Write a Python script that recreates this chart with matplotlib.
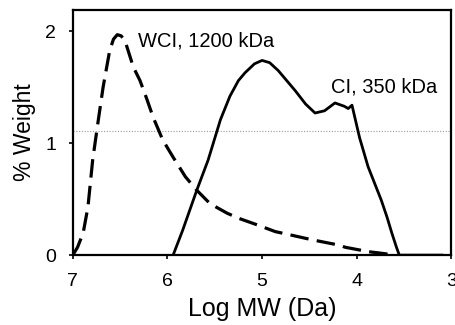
import numpy as np
import matplotlib
matplotlib.use("Agg")
import matplotlib.pyplot as plt

plt.rcParams['font.family'] = ['Liberation Sans', 'DejaVu Sans']

# WCI profile (dashed), log MW vs % weight
wci_logmw = [7.00, 6.95, 6.89, 6.84, 6.79, 6.73, 6.68, 6.61, 6.57, 6.53,
             6.49, 6.45, 6.36, 6.29, 6.22, 6.15, 6.05, 5.94, 5.81, 5.69,
             5.55, 5.37, 5.25, 5.05, 4.86, 4.75, 4.54, 4.43, 4.19, 4.12,
             3.87, 3.77, 3.59]
wci_weight = [0.00, 0.07, 0.20, 0.43, 0.85, 1.21, 1.50, 1.83, 1.93, 1.97,
              1.96, 1.92, 1.68, 1.56, 1.40, 1.23, 1.03, 0.875, 0.70, 0.58,
              0.46, 0.375, 0.33, 0.27, 0.21, 0.19, 0.15, 0.13, 0.09, 0.07,
              0.03, 0.02, 0.00]

# CI profile (solid)
ci_logmw = [5.94, 5.84, 5.69, 5.57, 5.44, 5.34, 5.25, 5.18, 5.08, 5.00, 4.92,
            4.83, 4.74, 4.65, 4.54, 4.44, 4.34, 4.23, 4.13, 4.09, 4.05, 3.97,
            3.88, 3.81, 3.74, 3.68, 3.63, 3.58, 3.55, 3.10]
ci_weight = [0.00, 0.22, 0.58, 0.85, 1.21, 1.42, 1.56, 1.63, 1.71, 1.74, 1.72,
             1.65, 1.56, 1.47, 1.35, 1.27, 1.29, 1.36, 1.33, 1.31, 1.34, 1.05,
             0.79, 0.64, 0.49, 0.34, 0.20, 0.07, 0.00, 0.00]

x_ticks = [7, 6, 5, 4, 3]
y_ticks = [0, 1, 2]

fig = plt.figure(figsize=(4.55, 3.25), dpi=100)
ax = fig.add_axes([0.160, 0.215, 0.832, 0.754])

ax.plot(wci_logmw, wci_weight, color='black', lw=2.3, linestyle=(0, (5.8, 2.6)),
        dash_capstyle='butt')
ax.plot(ci_logmw, ci_weight, color='black', lw=2.0)

# faint dotted reference line across the plot
ax.axhline(1.107, color='#9a9a9a', lw=0.8, linestyle=(0, (1, 1.5)), zorder=0)

ax.text(6.31, 1.91, 'WCI, 1200 kDa', fontsize=14.5, va='center', ha='left')
ax.text(4.27, 1.50, 'CI, 350 kDa', fontsize=14.5, va='center', ha='left')

ax.set_xlim(7, 3)
ax.set_ylim(0, 2.19)
ax.set_xticks(x_ticks)
ax.set_yticks(y_ticks)
ax.tick_params(direction='out', length=3, width=1.2, labelsize=14)
ax.tick_params(axis='x', pad=10)
ax.tick_params(axis='y', pad=9)
for s in ax.spines.values():
    s.set_linewidth(1.6)

ax.set_xlabel('Log MW (Da)', fontsize=18, labelpad=5)
ax.set_ylabel('% Weight', fontsize=16.5, labelpad=7)

fig.savefig('out.png', dpi=100)
